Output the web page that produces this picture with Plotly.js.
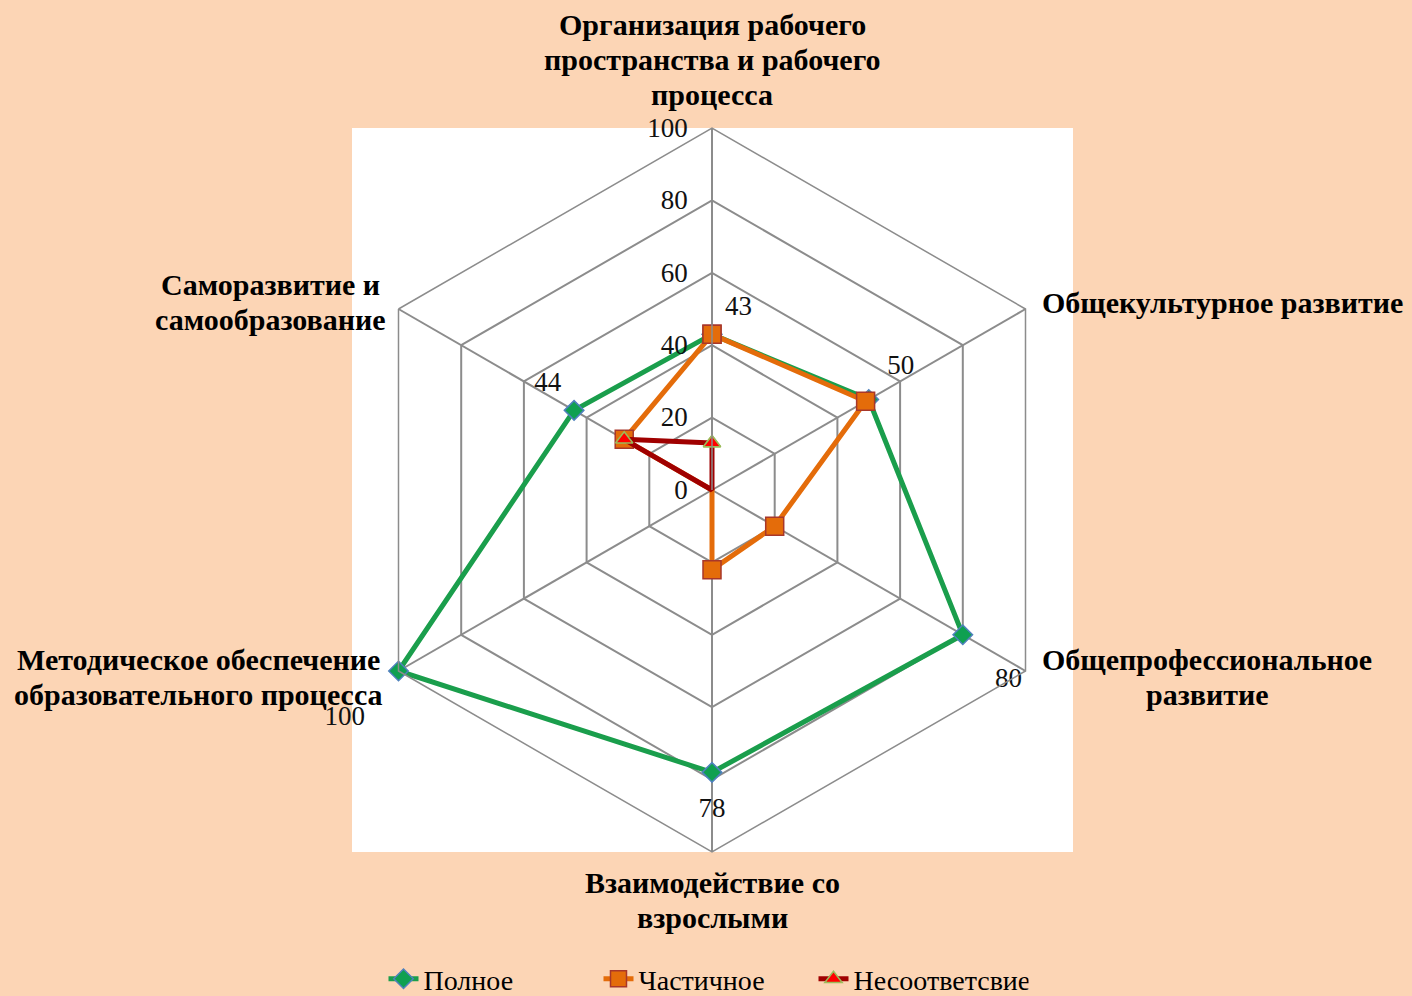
<!DOCTYPE html>
<html>
<head>
<meta charset="utf-8">
<script src="https://cdn.plot.ly/plotly-3.0.1.min.js"></script>
<style>html,body{margin:0;padding:0;background:#FCD5B5;}#chart{width:1412px;height:996px;}</style>
</head>
<body>
<div id="chart"></div>
<script>
const categories = [
  'Организация рабочего<br>пространства и рабочего<br>процесса',
  'Общекультурное развитие',
  'Общепрофессиональное<br>развитие',
  'Взаимодействие со<br>взрослыми',
  'Методическое обеспечение<br>образовательного процесса',
  'Саморазвитие и<br>самообразование'
];
const seriesNames = ['Полное', 'Частичное', 'Несоответсвие'];
const full = [43, 50, 80, 78, 100, 44];
const partial = [43, 49, 20, 22, 0, 28];
const mismatch = [13, 0, 0, 0, 0, 28];
const radialTicks = [0, 20, 40, 60, 80, 100];

const W = 1412, H = 996;
const px = x => x / W;
const py = y => 1 - y / H;
const close = a => a.concat([a[0]]);

const serif = 'Liberation Serif, Times New Roman, serif';

const traces = [
  {
    type: 'scatterpolar', name: seriesNames[0],
    r: close(full), theta: close(categories),
    mode: 'lines+markers',
    line: {color: '#1A9E4C', width: 5},
    marker: {symbol: 'diamond', size: 15, color: '#0FA050', line: {color: '#4F81BD', width: 1.5}},
    cliponaxis: false
  },
  {
    type: 'scatterpolar', name: seriesNames[1],
    r: close(partial), theta: close(categories),
    mode: 'lines+markers',
    line: {color: '#E46C0A', width: 5},
    marker: {symbol: 'square', size: 18, color: '#E46C0A', line: {color: '#A8372A', width: 1.5}},
    cliponaxis: false
  },
  {
    type: 'scatterpolar', name: seriesNames[2],
    r: close(mismatch), theta: close(categories),
    mode: 'lines+markers',
    line: {color: '#A00000', width: 5},
    marker: {symbol: 'triangle-up', size: 15, color: '#FF0000', line: {color: '#9BBB59', width: 1.5}},
    cliponaxis: false
  },
  {
    // data labels of the "Полное" series (invisible markers set the label offset)
    type: 'scatterpolar', name: seriesNames[0] + ' labels', showlegend: false, hoverinfo: 'skip',
    r: full, theta: categories,
    mode: 'markers+text',
    text: full.map(String),
    textposition: ['top right', 'top right', 'bottom right', 'bottom center', 'bottom left', 'top left'],
    textfont: {family: serif, size: 27, color: '#111'},
    marker: {size: [19, 28, 50, 38, 52, 19], color: 'rgba(0,0,0,0)', line: {width: 0}},
    cliponaxis: false
  }
];

const labelPos = [
  [712, 60], [1222, 302], [1207, 677], [712, 900], [199, 677], [270, 302]
];
const LINE = 35;
const annotations = [];
categories.forEach((c, i) => {
  const lines = c.split('<br>');
  lines.forEach((ln, j) => {
    annotations.push({
      text: ln, xref: 'paper', yref: 'paper',
      x: px(labelPos[i][0]), y: py(labelPos[i][1] + (j - (lines.length - 1) / 2) * LINE),
      xanchor: 'center', yanchor: 'middle', showarrow: false,
      font: {family: serif, size: 30, color: '#000', weight: 'bold'}
    });
  });
});

const layout = {
  width: W, height: H,
  margin: {l: 0, r: 0, t: 0, b: 0, autoexpand: false},
  paper_bgcolor: '#FCD5B5',
  shapes: [{
    type: 'rect', xref: 'paper', yref: 'paper', layer: 'below',
    x0: px(352), x1: px(1073), y0: py(852), y1: py(128),
    fillcolor: '#FFFFFF', line: {width: 0}
  }],
  polar: {
    domain: {x: [px(350), px(1074)], y: [py(852), py(128)]},
    bgcolor: 'rgba(255,255,255,0)',
    gridshape: 'linear',
    angularaxis: {
      direction: 'clockwise', rotation: 90,
      showticklabels: false, ticks: '',
      linecolor: '#8C8C8C', linewidth: 1.5,
      gridcolor: '#8C8C8C', gridwidth: 1.5
    },
    radialaxis: {
      range: [0, 100], tickvals: radialTicks, ticktext: radialTicks.map(String),
      angle: 90, side: 'counterclockwise', tickangle: 90,
      ticks: 'outside', ticklen: 14, tickcolor: 'rgba(0,0,0,0)',
      showline: true, linecolor: '#8C8C8C', linewidth: 1.5,
      gridcolor: '#8C8C8C', gridwidth: 1.5,
      tickfont: {family: serif, size: 27, color: '#111'}
    }
  },
  showlegend: true,
  legend: {
    orientation: 'h', x: 0.5, xanchor: 'center', y: py(979), yanchor: 'middle',
    entrywidth: 170, entrywidthmode: 'pixels',
    font: {family: serif, size: 28, color: '#000'},
    bgcolor: 'rgba(0,0,0,0)'
  },
  annotations: annotations
};

Plotly.newPlot('chart', traces, layout, {displayModeBar: false});
</script>
</body>
</html>
